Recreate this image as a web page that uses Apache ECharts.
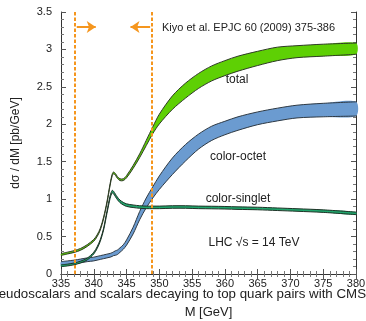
<!DOCTYPE html>
<html>
<head>
<meta charset="utf-8">
<script src="https://cdn.jsdelivr.net/npm/echarts@6/dist/echarts.min.js"></script>
<style>
  html, body { margin: 0; padding: 0; background: #fff; }
  #chart { width: 366px; height: 321px; }
</style>
</head>
<body>
<div id="chart"></div>
<script>
// Invariant mass grid (GeV)
const masses = [335, 336, 337, 338, 339, 340, 340.5, 341, 341.5, 342, 342.5, 342.8, 343, 343.3, 343.6, 344, 344.5, 345, 346, 347, 348, 349, 350, 352, 354, 356, 358, 360, 362, 365, 368, 371, 375, 380];

// dσ/dM bands [pb/GeV]: lower and upper edges
const totalLo = [0.248, 0.268, 0.288, 0.318, 0.368, 0.438, 0.498, 0.588, 0.738, 0.938, 1.188, 1.308, 1.338, 1.318, 1.278, 1.248, 1.248, 1.285, 1.41, 1.555, 1.715, 1.875, 2.005, 2.2, 2.35, 2.48, 2.58, 2.65, 2.71, 2.785, 2.85, 2.89, 2.91, 2.935];
const totalHi = [0.272, 0.292, 0.312, 0.342, 0.392, 0.462, 0.522, 0.612, 0.762, 0.962, 1.212, 1.332, 1.362, 1.342, 1.302, 1.272, 1.272, 1.315, 1.45, 1.605, 1.785, 1.965, 2.135, 2.38, 2.55, 2.68, 2.78, 2.85, 2.91, 2.975, 3.03, 3.05, 3.07, 3.085];

const octetLo = [0.115, 0.125, 0.135, 0.15, 0.165, 0.175, 0.185, 0.195, 0.205, 0.215, 0.225, 0.235, 0.245, 0.25, 0.26, 0.29, 0.33, 0.385, 0.535, 0.725, 0.885, 1.015, 1.13, 1.33, 1.51, 1.67, 1.785, 1.86, 1.92, 1.995, 2.045, 2.085, 2.10, 2.11];
const octetHi = [0.165, 0.175, 0.185, 0.20, 0.215, 0.225, 0.235, 0.245, 0.255, 0.265, 0.275, 0.285, 0.295, 0.31, 0.32, 0.35, 0.39, 0.455, 0.625, 0.835, 1.015, 1.165, 1.31, 1.55, 1.73, 1.87, 1.975, 2.04, 2.10, 2.165, 2.215, 2.255, 2.28, 2.30];

const singletLo = [0.098, 0.108, 0.123, 0.148, 0.188, 0.268, 0.338, 0.438, 0.588, 0.805, 1.013, 1.083, 1.073, 1.033, 0.993, 0.953, 0.923, 0.903, 0.888, 0.878, 0.873, 0.873, 0.873, 0.878, 0.878, 0.873, 0.871, 0.868, 0.863, 0.858, 0.848, 0.838, 0.823, 0.793];
const singletHi = [0.122, 0.132, 0.147, 0.172, 0.212, 0.292, 0.362, 0.462, 0.612, 0.835, 1.047, 1.117, 1.107, 1.067, 1.027, 0.987, 0.957, 0.937, 0.922, 0.912, 0.907, 0.907, 0.907, 0.912, 0.912, 0.907, 0.905, 0.902, 0.897, 0.892, 0.882, 0.872, 0.857, 0.827];

// Threshold window (dashed markers) and arrow spans
const windowEdges = [337.1, 348.9];
const arrowRight = [[337.4, 3.3], [340.3, 3.3]];
const arrowLeft = [[348.6, 3.3], [345.6, 3.3]];

const xTicks = { min: 335, max: 380, interval: 5 };
const yTicks = { min: 0, max: 3.5, interval: 0.5 };

const FONT = 'Liberation Sans, Arial, Helvetica, sans-serif';
const ORANGE = '#f5961e';
const SMOOTH = 0.3;

// A filled band between lo and hi with thin dark edges, mapped through the axes
function band(name, lo, hi, fill, edge) {
  return {
    type: 'custom', name, coordinateSystem: 'cartesian2d', silent: true,
    xAxisIndex: 0, yAxisIndex: 0,
    data: [[masses[0], lo[0]]],
    renderItem(params, api) {
      const up = masses.map((m, i) => api.coord([m, hi[i]]));
      const dn = masses.map((m, i) => api.coord([m, lo[i]]));
      return {
        type: 'group',
        children: [
          { type: 'polygon', shape: { points: up.concat(dn.slice().reverse()), smooth: SMOOTH }, style: { fill, stroke: null } },
          { type: 'polyline', shape: { points: up, smooth: SMOOTH }, style: { stroke: edge, lineWidth: 1, fill: null } },
          { type: 'polyline', shape: { points: dn, smooth: SMOOTH }, style: { stroke: edge, lineWidth: 1, fill: null } }
        ]
      };
    }
  };
}

const axisLine = { show: true, lineStyle: { color: '#333', width: 1 } };
const tick = { show: true, inside: true, length: 5, lineStyle: { color: '#555' } };
const minor = { show: true, splitNumber: 5, length: 3, lineStyle: { color: '#777' } };
const label = { color: '#222', fontFamily: FONT, fontSize: 11 };

const chart = echarts.init(document.getElementById('chart'), null, { renderer: 'canvas' });

const series = [
  band('color-octet', octetLo, octetHi, '#6b9bd0', '#2f3a44'),
  band('color-singlet', singletLo, singletHi, '#20a56c', '#1d3326'),
  band('total', totalLo, totalHi, '#5ed004', '#2e3a26'),
  {
    type: 'line', data: [], xAxisIndex: 0, yAxisIndex: 0, silent: true,
    markLine: {
      silent: true, symbol: 'none', label: { show: false },
      lineStyle: { color: ORANGE, type: [3.5, 2], width: 2 },
      data: windowEdges.map(x => ({ xAxis: x }))
    }
  }, {
    type: 'line', data: [], xAxisIndex: 0, yAxisIndex: 0, silent: true,
    markLine: {
      silent: true, symbol: ['none', 'arrow'], symbolSize: [9, 9], label: { show: false },
      lineStyle: { color: ORANGE, type: 'solid', width: 2 },
      data: [
        [{ coord: arrowRight[0] }, { coord: arrowRight[1] }],
        [{ coord: arrowLeft[0] }, { coord: arrowLeft[1] }]
      ]
    }
  }
];

chart.setOption({
  animation: false,
  backgroundColor: '#fff',
  grid: { left: 61, top: 12, right: 10, bottom: 47, containLabel: false, outerBoundsMode: 'none' },
  xAxis: [{
    type: 'value', min: xTicks.min, max: xTicks.max, interval: xTicks.interval,
    name: 'M [GeV]', nameLocation: 'middle', nameGap: 32,
    nameTextStyle: { color: '#222', fontFamily: FONT, fontSize: 13 },
    axisLine, axisTick: tick, minorTick: minor, splitLine: { show: false },
    axisLabel: Object.assign({ margin: 4 }, label)
  }, {
    type: 'value', position: 'top', min: xTicks.min, max: xTicks.max, interval: xTicks.interval,
    axisLine, axisTick: tick, minorTick: minor, splitLine: { show: false }, axisLabel: { show: false }
  }],
  yAxis: [{
    type: 'value', min: yTicks.min, max: yTicks.max, interval: yTicks.interval,
    name: 'dσ / dM [pb/GeV]', nameLocation: 'middle', nameGap: 39, nameRotate: 90,
    nameTextStyle: { color: '#222', fontFamily: FONT, fontSize: 12 },
    axisLine, axisTick: tick, minorTick: minor, splitLine: { show: false },
    axisLabel: Object.assign({ margin: 9 }, label)
  }, {
    type: 'value', position: 'right', min: yTicks.min, max: yTicks.max, interval: yTicks.interval,
    axisLine, axisTick: tick, minorTick: minor, splitLine: { show: false }, axisLabel: { show: false }
  }],
  series,
  graphic: [
    { type: 'text', left: 162, top: 22, style: { text: 'Kiyo et al. EPJC 60 (2009) 375-386', font: '11px ' + FONT, fill: '#222' } },
    { type: 'text', x: 237, y: 80, style: { text: 'total', font: '12px ' + FONT, fill: '#222', align: 'center', verticalAlign: 'middle' } },
    { type: 'text', x: 238, y: 157, style: { text: 'color-octet', font: '12px ' + FONT, fill: '#222', align: 'center', verticalAlign: 'middle' } },
    { type: 'text', x: 238, y: 199, style: { text: 'color-singlet', font: '12px ' + FONT, fill: '#222', align: 'center', verticalAlign: 'middle' } },
    { type: 'text', x: 254, y: 243, style: { text: 'LHC √s = 14 TeV', font: '12px ' + FONT, fill: '#222', align: 'center', verticalAlign: 'middle' } },
    { type: 'text', x: 366, y: 294, style: { text: 'eudoscalars and scalars decaying to top quark pairs with CMS', font: '13.3px ' + FONT, fill: '#222', align: 'right', verticalAlign: 'middle' } }
  ]
});
</script>
</body>
</html>
